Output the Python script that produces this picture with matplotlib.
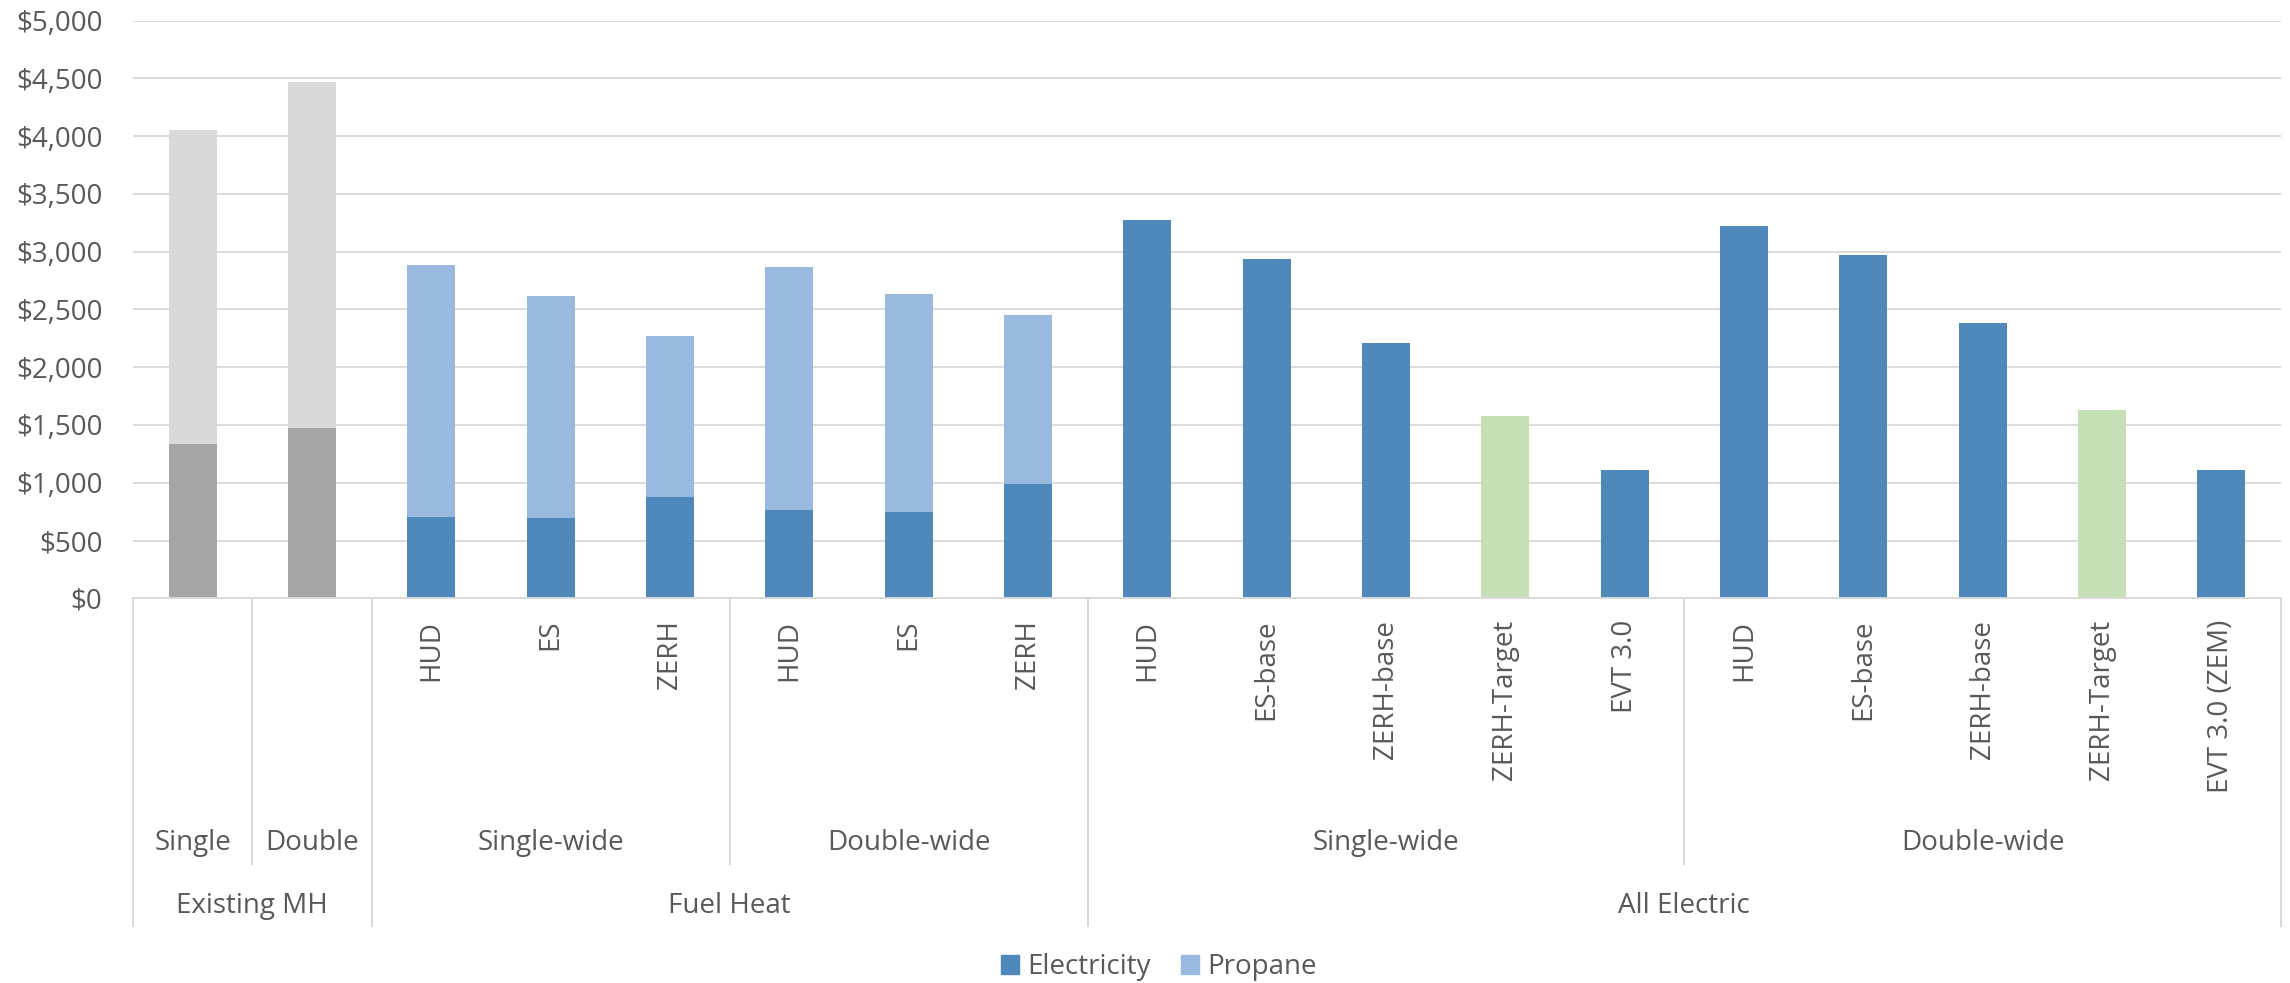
import numpy as np
import matplotlib
matplotlib.use("Agg")
import matplotlib.pyplot as plt
from matplotlib.patches import Patch
from matplotlib.ticker import FuncFormatter, MultipleLocator

plt.rcParams['font.family'] = ['Open Sans', 'DejaVu Sans']

# category labels, innermost level first
labels = ['', '', 'HUD', 'ES', 'ZERH', 'HUD', 'ES', 'ZERH',
          'HUD', 'ES-base', 'ZERH-base', 'ZERH-Target', 'EVT 3.0',
          'HUD', 'ES-base', 'ZERH-base', 'ZERH-Target', 'EVT 3.0 (ZEM)']
mid_groups = [('Single', 1), ('Double', 1), ('Single-wide', 3), ('Double-wide', 3),
              ('Single-wide', 5), ('Double-wide', 5)]
top_groups = [('Existing MH', 2), ('Fuel Heat', 6), ('All Electric', 10)]

# annual energy cost ($)
electricity = [1335, 1478, 706, 692, 877, 764, 747, 992,
               3272, 2934, 2207, 1578, 1110, 3220, 2969, 2383, 1630, 1110]
propane = [2717, 2991, 2176, 1922, 1393, 2101, 1884, 1460,
           0, 0, 0, 0, 0, 0, 0, 0, 0, 0]

BLUE = '#4F89BC'
LIGHT_BLUE = '#99B9DF'
GRAY = '#A5A5A5'
LIGHT_GRAY = '#D9D9D9'
GREEN = '#C5E0B4'
TEXT = '#595959'
LINE = '#D9D9D9'
FS = 20

W, H = 2290, 983
fig = plt.figure(figsize=(W / 100, H / 100), dpi=100)
x0, x1 = 133, 2281           # plot area in pixels
y_top, y_base = 20.6, 598.3
ax = fig.add_axes([x0 / W, 1 - y_base / H, (x1 - x0) / W, (y_base - y_top) / H])

n = len(labels)
x = np.arange(n)
elec_colors = []
prop_colors = []
for i, lab in enumerate(labels):
    if i < 2:
        elec_colors.append(GRAY)
        prop_colors.append(LIGHT_GRAY)
    elif lab == 'ZERH-Target':
        elec_colors.append(GREEN)
        prop_colors.append(LIGHT_BLUE)
    else:
        elec_colors.append(BLUE)
        prop_colors.append(LIGHT_BLUE)

ax.bar(x, electricity, width=0.4, color=elec_colors, zorder=3)
ax.bar(x, propane, width=0.4, bottom=electricity, color=prop_colors, zorder=3)

ax.set_xlim(-0.5, n - 0.5)
ax.set_ylim(0, 5000)
ax.yaxis.set_major_locator(MultipleLocator(500))
ax.yaxis.set_major_formatter(FuncFormatter(lambda v, p: f'${v:,.0f}'))
ax.tick_params(axis='y', length=0, pad=22, labelsize=FS, labelcolor=TEXT)
ax.set_xticks([])
ax.grid(axis='y', color=LINE, linewidth=1.3, zorder=0)
for s in ax.spines.values():
    s.set_visible(False)

tr = ax.get_xaxis_transform()


def ay(py):
    # pixel row from the top of the figure -> axes fraction
    return (y_base - py) / (y_base - y_top)


def vline(xpos, bottom):
    ax.plot([xpos, xpos], [ay(600), ay(bottom)], color=LINE, lw=1.4,
            transform=tr, clip_on=False)


# innermost labels, rotated
for i, lab in enumerate(labels):
    if lab:
        ax.text(i, ay(620), lab, rotation=90, ha='center', va='top',
                fontsize=FS, color=TEXT, transform=tr)

# middle level
start = 0
for name, cnt in mid_groups:
    ax.text(start + (cnt - 1) / 2, ay(843), name, ha='center', va='center',
            fontsize=FS, color=TEXT, transform=tr)
    start += cnt
    vline(start - 0.5, 864)

# outer level
start = 0
vline(-0.5, 926)
for name, cnt in top_groups:
    ax.text(start + (cnt - 1) / 2, ay(906), name, ha='center', va='center',
            fontsize=FS, color=TEXT, transform=tr)
    start += cnt
    vline(start - 0.5, 926)

ax.plot([-0.5, n - 0.5], [0, 0], color=LINE, lw=1.4, zorder=4, clip_on=False)

handles = [Patch(color=BLUE, label='Electricity'), Patch(color=LIGHT_BLUE, label='Propane')]
fig.legend(handles=handles, loc='center', bbox_to_anchor=(1159 / W, 1 - 967 / H),
           ncol=2, frameon=False, fontsize=FS, labelcolor=TEXT,
           handlelength=0.65, handleheight=0.65, handletextpad=0.3, columnspacing=1.1)

fig.savefig('out.png', dpi=100)
